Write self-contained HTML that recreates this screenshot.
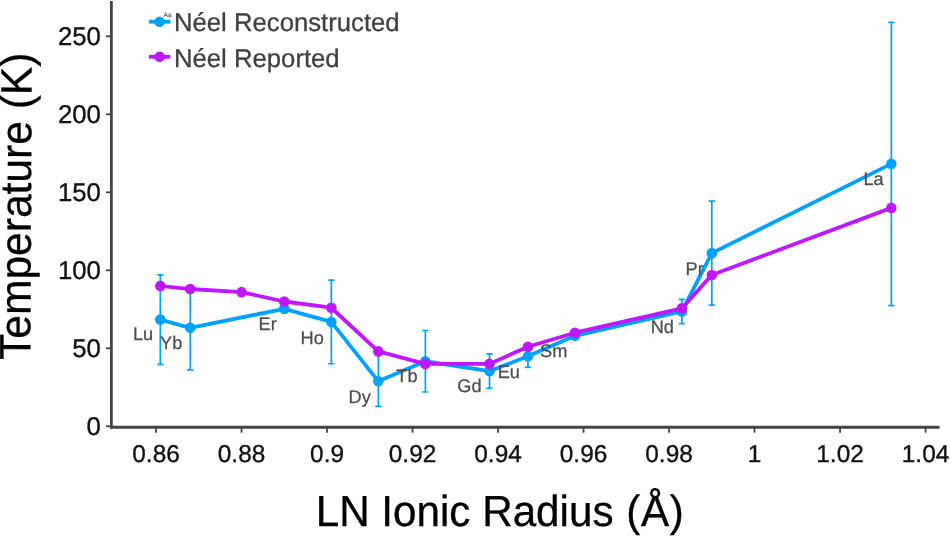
<!DOCTYPE html><html><head><meta charset="utf-8"><title>Néel temperature vs LN ionic radius</title>
<style>html,body{margin:0;padding:0;background:#fff;}body{width:950px;height:536px;overflow:hidden;}svg{display:block;}text{font-family:"Liberation Sans",Arial,sans-serif;text-rendering:geometricPrecision;}</style></head><body>
<svg width="950" height="536" viewBox="0 0 950 536">
<rect width="950" height="536" fill="#fff"/>
<g stroke="#00A2FF" stroke-width="1.7" fill="none">
<path d="M157.23 274.82H163.43M157.23 364.37H163.43M160.33 274.82V364.37"/>
<path d="M187.15 285.90H193.35M187.15 369.83H193.35M190.25 285.90V369.83"/>
<path d="M281.20 304.93H287.40M281.20 312.73H287.40M284.30 304.93V312.73"/>
<path d="M328.23 280.13H334.43M328.23 363.74H334.43M331.33 280.13V363.74"/>
<path d="M375.25 354.41H381.45M375.25 406.33H381.45M378.35 354.41V406.33"/>
<path d="M422.28 330.52H428.48M422.28 391.98H428.48M425.38 330.52V391.98"/>
<path d="M486.40 353.92H492.60M486.40 388.24H492.60M489.50 353.92V388.24"/>
<path d="M524.87 345.18H531.07M524.87 367.33H531.07M527.97 345.18V367.33"/>
<path d="M571.90 334.26H578.10M571.90 337.38H578.10M575.00 334.26V337.38"/>
<path d="M678.77 299.32H684.98M678.77 323.65H684.98M681.88 299.32V323.65"/>
<path d="M708.70 201.19H714.90M708.70 305.09H714.90M711.80 201.19V305.09"/>
<path d="M888.25 22.26H894.45M888.25 305.56H894.45M891.35 22.26V305.56"/>
</g>
<polyline points="160.33,319.60 190.25,327.86 284.30,308.83 331.33,321.94 378.35,381.37 425.38,361.25 489.50,371.08 527.97,356.26 575.00,335.82 681.88,311.48 711.80,253.14 891.35,163.91" fill="none" stroke="#00A2FF" stroke-width="3.8" stroke-linejoin="round"/>
<g fill="#00A2FF">
<circle cx="160.33" cy="319.60" r="5.3"/>
<circle cx="190.25" cy="327.86" r="5.3"/>
<circle cx="284.30" cy="308.83" r="5.3"/>
<circle cx="331.33" cy="321.94" r="5.3"/>
<circle cx="378.35" cy="381.37" r="5.3"/>
<circle cx="425.38" cy="361.25" r="5.3"/>
<circle cx="489.50" cy="371.08" r="5.3"/>
<circle cx="527.97" cy="356.26" r="5.3"/>
<circle cx="575.00" cy="335.82" r="5.3"/>
<circle cx="681.88" cy="311.48" r="5.3"/>
<circle cx="711.80" cy="253.14" r="5.3"/>
<circle cx="891.35" cy="163.91" r="5.3"/>
</g>
<g fill="#4D4D4D" stroke="#4D4D4D" stroke-width="0.25" font-size="18.2px">
<text x="133.0" y="340.2">Lu</text>
<text x="160.0" y="348.7">Yb</text>
<text x="258.5" y="329.5">Er</text>
<text x="300.5" y="343.5">Ho</text>
<text x="348.5" y="402.5">Dy</text>
<text x="396.3" y="382.0">Tb</text>
<text x="457.3" y="391.7">Gd</text>
<text x="497.7" y="378.0">Eu</text>
<text x="540.0" y="357.1">Sm</text>
<text x="650.7" y="332.5">Nd</text>
<text x="685.5" y="274.7">Pr</text>
<text x="863.5" y="185.1">La</text>
</g>
<polyline points="160.33,285.90 190.25,289.02 241.55,292.14 284.30,301.50 331.33,307.74 378.35,351.42 425.38,363.90 489.50,363.90 527.97,346.74 575.00,332.70 681.88,308.36 711.80,274.98 891.35,207.90" fill="none" stroke="#BF17FF" stroke-width="3.8" stroke-linejoin="round"/>
<g fill="#BF17FF">
<circle cx="160.33" cy="285.90" r="5.3"/>
<circle cx="190.25" cy="289.02" r="5.3"/>
<circle cx="241.55" cy="292.14" r="5.3"/>
<circle cx="284.30" cy="301.50" r="5.3"/>
<circle cx="331.33" cy="307.74" r="5.3"/>
<circle cx="378.35" cy="351.42" r="5.3"/>
<circle cx="425.38" cy="363.90" r="5.3"/>
<circle cx="489.50" cy="363.90" r="5.3"/>
<circle cx="527.97" cy="346.74" r="5.3"/>
<circle cx="575.00" cy="332.70" r="5.3"/>
<circle cx="681.88" cy="308.36" r="5.3"/>
<circle cx="711.80" cy="274.98" r="5.3"/>
<circle cx="891.35" cy="207.90" r="5.3"/>
</g>
<g stroke="#444444" fill="none">
<path d="M111.4 1V428.7" stroke-width="2.8"/>
<path d="M110 427.2H939.6" stroke-width="3"/>
<g stroke-width="1.8">
<path d="M156.05 428V432.7"/>
<path d="M241.55 428V432.7"/>
<path d="M327.05 428V432.7"/>
<path d="M412.55 428V432.7"/>
<path d="M498.05 428V432.7"/>
<path d="M583.55 428V432.7"/>
<path d="M669.05 428V432.7"/>
<path d="M754.55 428V432.7"/>
<path d="M840.05 428V432.7"/>
<path d="M925.55 428V432.7"/>
<path d="M105.9 426.30H110.5"/>
<path d="M105.9 348.30H110.5"/>
<path d="M105.9 270.30H110.5"/>
<path d="M105.9 192.30H110.5"/>
<path d="M105.9 114.30H110.5"/>
<path d="M105.9 36.30H110.5"/>
</g></g>
<g fill="#111" stroke="#111" stroke-width="0.35" font-size="24.4px">
<text x="156.05" y="462.2" text-anchor="middle">0.86</text>
<text x="241.55" y="462.2" text-anchor="middle">0.88</text>
<text x="327.05" y="462.2" text-anchor="middle">0.9</text>
<text x="412.55" y="462.2" text-anchor="middle">0.92</text>
<text x="498.05" y="462.2" text-anchor="middle">0.94</text>
<text x="583.55" y="462.2" text-anchor="middle">0.96</text>
<text x="669.05" y="462.2" text-anchor="middle">0.98</text>
<text x="754.55" y="462.2" text-anchor="middle">1</text>
<text x="840.05" y="462.2" text-anchor="middle">1.02</text>
<text x="925.55" y="462.2" text-anchor="middle">1.04</text>
<text x="100.9" y="435.20" text-anchor="end" font-size="25.7px">0</text>
<text x="100.9" y="357.20" text-anchor="end" font-size="25.7px">50</text>
<text x="100.9" y="279.20" text-anchor="end" font-size="25.7px">100</text>
<text x="100.9" y="201.20" text-anchor="end" font-size="25.7px">150</text>
<text x="100.9" y="123.20" text-anchor="end" font-size="25.7px">200</text>
<text x="100.9" y="45.20" text-anchor="end" font-size="25.7px">250</text>
</g>
<path d="M148.9 21.7H170.4" stroke="#00A2FF" stroke-width="3.8"/>
<circle cx="159.6" cy="21.7" r="5.25" fill="#00A2FF"/>
<text x="174.0" y="31.4" font-size="25.7px" fill="#404040" stroke="#404040" stroke-width="0.3">Néel Reconstructed</text>
<path d="M148.9 56.8H170.4" stroke="#BF17FF" stroke-width="3.8"/>
<circle cx="159.6" cy="56.8" r="5.25" fill="#BF17FF"/>
<text x="174.0" y="67.0" font-size="25.7px" fill="#404040" stroke="#404040" stroke-width="0.3">Néel Reported</text>
<text x="163.5" y="16.6" font-size="6.6px" fill="#555" stroke="#555" stroke-width="0.15">Aa</text>
<text transform="translate(315.7 526.2) scale(1,1.03)" font-size="42.2px" fill="#000" stroke="#000" stroke-width="0.3">LN Ionic Radius <tspan dx="1">(</tspan><tspan dx="0.6">Å</tspan><tspan dx="0.8">)</tspan></text>
<text transform="translate(30.95 206.3) rotate(-89.7) scale(1,1.03)" font-size="42.55px" text-anchor="middle" fill="#000" stroke="#000" stroke-width="0.3">Temperature (K)</text>
</svg></body></html>
